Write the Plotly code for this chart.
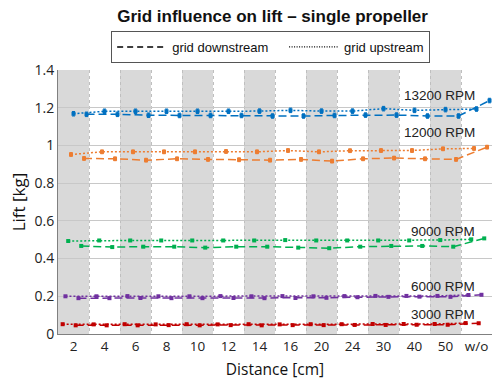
import plotly.graph_objects as go

categories = ["2", "4", "6", "8", "10", "12", "14", "16", "20", "24", "30", "40", "50", "w/o"]
rpm_labels = ["13200 RPM", "12000 RPM", "9000 RPM", "6000 RPM", "3000 RPM"]
colors = ["#0070C0", "#ED7D31", "#00B050", "#7030A0", "#C00000"]

up_13200 = [1.168, 1.181, 1.181, 1.181, 1.181, 1.181, 1.182, 1.186, 1.182, 1.182, 1.195, 1.186, 1.190, 1.193]
down_13200 = [1.165, 1.165, 1.160, 1.159, 1.159, 1.159, 1.156, 1.156, 1.159, 1.161, 1.161, 1.156, 1.156, 1.238]
up_12000 = [0.952, 0.966, 0.966, 0.966, 0.966, 0.968, 0.966, 0.973, 0.966, 0.972, 0.973, 0.973, 0.982, 0.984]
down_12000 = [0.931, 0.929, 0.922, 0.929, 0.926, 0.924, 0.922, 0.926, 0.917, 0.929, 0.933, 0.929, 0.926, 0.991]
up_9000 = [0.493, 0.496, 0.496, 0.496, 0.496, 0.496, 0.496, 0.498, 0.496, 0.496, 0.496, 0.496, 0.498, 0.502]
down_9000 = [0.467, 0.461, 0.463, 0.463, 0.458, 0.463, 0.463, 0.458, 0.455, 0.463, 0.467, 0.467, 0.463, 0.507]
up_6000 = [0.200, 0.200, 0.201, 0.200, 0.200, 0.201, 0.200, 0.201, 0.200, 0.201, 0.202, 0.202, 0.202, 0.207]
down_6000 = [0.190, 0.190, 0.191, 0.190, 0.190, 0.191, 0.190, 0.191, 0.192, 0.195, 0.197, 0.198, 0.197, 0.208]
up_3000 = [0.052, 0.051, 0.052, 0.051, 0.052, 0.051, 0.052, 0.051, 0.052, 0.052, 0.053, 0.053, 0.053, 0.058]
down_3000 = [0.046, 0.046, 0.046, 0.047, 0.046, 0.047, 0.046, 0.047, 0.047, 0.048, 0.048, 0.049, 0.049, 0.057]

up_series = [up_13200, up_12000, up_9000, up_6000, up_3000]
down_series = [down_13200, down_12000, down_9000, down_6000, down_3000]
errors = [0.012, 0.010, 0.004, 0.004, 0.003]
up_offsets = [0.0, -0.08, -0.17, -0.26, -0.35]
down_offsets = [0.42, 0.34, 0.25, 0.16, 0.07]
label_y = [1.267, 1.066, 0.543, 0.252, 0.103]

idx = list(range(len(categories)))
fig = go.Figure()

for k in range(5):
    for vals, off, dash in ((up_series[k], up_offsets[k], "2px,2px"), (down_series[k], down_offsets[k], "8px,4px")):
        fig.add_trace(go.Scatter(
            x=[i + off for i in idx], y=vals, mode="lines+markers",
            line=dict(color=colors[k], width=1.5, dash=dash),
            marker=dict(color=colors[k], size=4, symbol="square"),
            error_y=dict(type="constant", value=errors[k], color=colors[k], thickness=1, width=1.5),
            showlegend=False, hoverinfo="skip"))

fig.add_trace(go.Scatter(x=[None], y=[None], mode="lines", name="grid downstream&nbsp;&nbsp;&nbsp;",
                         line=dict(color="black", width=1.5, dash="6px,4px")))
fig.add_trace(go.Scatter(x=[None], y=[None], mode="lines", name="grid upstream",
                         line=dict(color="black", width=1.2, dash="1px,1.5px")))

shapes = []
for i in idx:
    if i % 2 == 0 and i < 13:
        shapes.append(dict(type="rect", xref="x", yref="paper", x0=i - 0.5, x1=i + 0.5, y0=0, y1=1,
                           fillcolor="#D9D9D9", line=dict(width=0), layer="below"))

for k in range(5):
    fig.add_annotation(x=13.02, y=label_y[k], text=rpm_labels[k], showarrow=False,
                       xanchor="right", yanchor="middle",
                       font=dict(family="Liberation Sans, Arial", size=13.5, color="#222222"))

fig.update_layout(
    width=492, height=384,
    margin=dict(l=58, r=0, t=70, b=50),
    paper_bgcolor="white", plot_bgcolor="white",
    shapes=shapes,
    title=dict(text="<b>Grid influence on lift – single propeller</b>", x=0.554, xanchor="center",
               y=0.958, yanchor="middle",
               font=dict(family="Liberation Sans, Arial", size=17, color="#111111")),
    legend=dict(orientation="h", x=0.49, xanchor="center", y=1.148, yanchor="top",
                bordercolor="#555555", borderwidth=1, bgcolor="white",
                font=dict(family="Liberation Sans, Arial", size=13, color="#111111"),
                itemwidth=50, tracegroupgap=0),
    xaxis=dict(range=[-0.5, 13.5], tickvals=idx, ticktext=categories, showgrid=False,
               zeroline=False, showline=True, linecolor="#808080", linewidth=1, ticks="",
               tickfont=dict(family="Open Sans", size=13.5, color="#222222"),
               title=dict(text="Distance [cm]", font=dict(family="Open Sans", size=15.5, color="#111111"), standoff=9),
               minor=dict(tickvals=[i + 0.5 for i in idx[:-1]], showgrid=True, gridcolor="#BFBFBF",
                          griddash="dot", gridwidth=1, ticks="")),
    yaxis=dict(range=[0, 1.4], tickvals=[0, 0.2, 0.4, 0.6, 0.8, 1.0, 1.2, 1.4],
               ticktext=["0", "0.2", "0.4", "0.6", "0.8", "1", "1.2", "1.4"],
               showgrid=True, gridcolor="#C8C8C8", gridwidth=1, zeroline=False,
               showline=True, linecolor="#808080", linewidth=1, ticks="",
               tickfont=dict(family="Open Sans", size=14, color="#222222"),
               title=dict(text="Lift [kg]", font=dict(family="Open Sans", size=17, color="#111111"), standoff=4)),
)

fig.write_html("out.html", config={"displayModeBar": False},
               post_script="document.body.style.margin='0';document.body.style.overflow='hidden';")
